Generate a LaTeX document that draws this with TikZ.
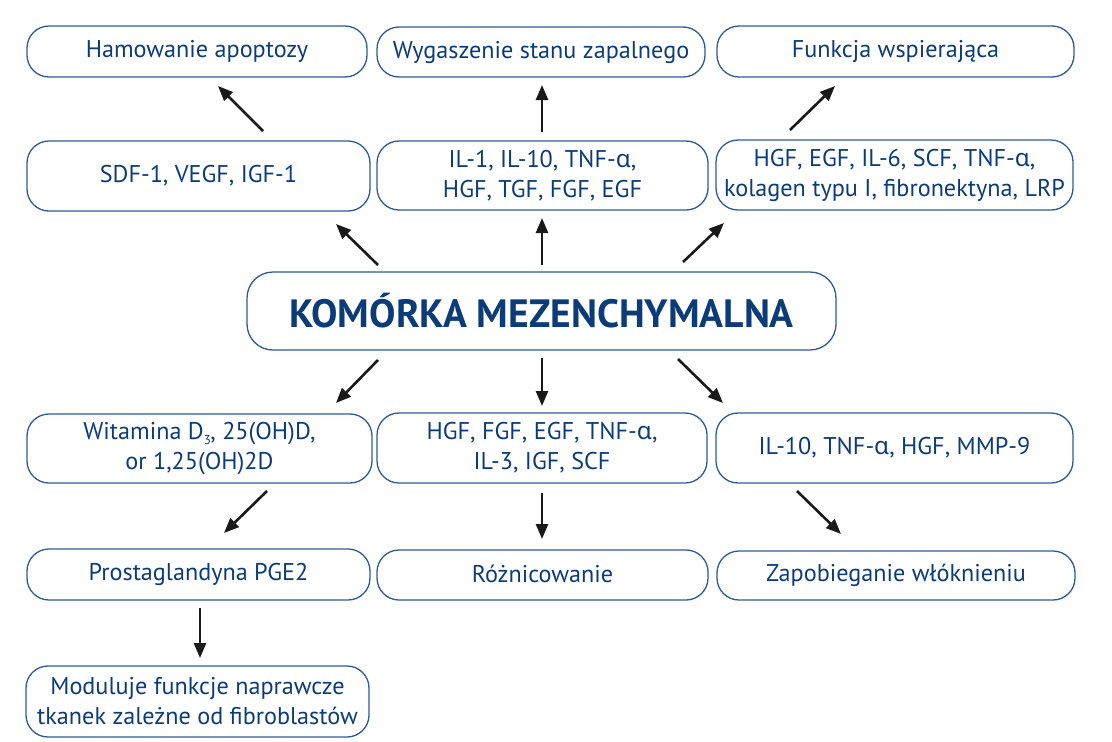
\documentclass[tikz,border=0pt]{standalone}
\usepackage{fontspec}
\setmainfont{PT Sans}
\newfontfamily\grk{Noto Sans}
\usetikzlibrary{arrows.meta}
\definecolor{boxline}{RGB}{45,90,152}
\definecolor{boxtext}{RGB}{12,60,120}
\newcommand{\alf}{{\grk α}}
\begin{document}
\begin{tikzpicture}[x=1pt,y=-1pt,
  box/.style={draw=boxline, line width=1.3pt, rounded corners=22pt, inner sep=0pt,
    align=center, text=boxtext, font=\fontsize{24.2}{30}\selectfont},
  titlebox/.style={box, rounded corners=26pt, font=\fontsize{39.5}{44}\selectfont\bfseries},
  arr/.style={line width=2.6pt, -{Triangle[length=15pt,width=12pt]}, black!90}]
\useasboundingbox (0,0) rectangle (1112,742);

% top row: effects
\node[box, minimum width=340, minimum height=51] (hamow) at (197,51.5) {Hamowanie apoptozy};
\node[box, minimum width=328, minimum height=50] (wyg) at (541,52) {Wygaszenie stanu zapalnego};
\node[box, minimum width=357, minimum height=51] (funk) at (895.5,51.5) {Funkcja wspierająca};

% second row: secreted factors
\node[box, minimum width=343, minimum height=70] (sdf) at (198.5,176) {SDF-1, VEGF, IGF-1};
\node[box, minimum width=331, minimum height=69] (ilj) at (542.5,175.5) {IL-1, IL-10, TNF-\alf,\\HGF, TGF, FGF, EGF};
\node[box, minimum width=357, minimum height=70] (hgfa) at (894.5,175) {HGF, EGF, IL-6, SCF, TNF-\alf,\\kolagen typu I, fibronektyna, LRP};

% central cell
\node[titlebox, minimum width=589, minimum height=78] (msc) at (541.5,311) {KOMÓRKA MEZENCHYMALNA};

% fourth row: secreted factors
\node[box, minimum width=345, minimum height=69] (wit) at (199.5,448.5)
  {Witamina D\raisebox{-0.45ex}{\fontsize{13}{13}\selectfont 3}\kern-0.5pt, 25(OH)D,\\or 1,25(OH)2D};
\node[box, minimum width=330, minimum height=70] (hgfb) at (542,448) {HGF, FGF, EGF, TNF-\alf,\\IL-3, IGF, SCF};
\node[box, minimum width=357, minimum height=70] (ilk) at (894.5,448) {IL-10, TNF-\alf, HGF, MMP-9};

% fifth row: effects
\node[box, minimum width=343, minimum height=51] (prost) at (198.5,574.5) {Prostaglandyna PGE2};
\node[box, minimum width=331, minimum height=50] (rozn) at (542.5,575) {\raisebox{2pt}{Różnicowanie}};
\node[box, minimum width=358, minimum height=49] (zapob) at (896,575.5) {Zapobieganie włóknieniu};

% last row
\node[box, minimum width=343, minimum height=71] (modul) at (197.5,701.5) {Moduluje funkcje naprawcze\\tkanek zależne od fibroblastów};

% arrow end points in the gaps between the boxes
\coordinate (s1) at (263,131); \coordinate (e1) at (218,86);
\coordinate (s2) at (542,132); \coordinate (e2) at (542,85);
\coordinate (s3) at (790,130); \coordinate (e3) at (835,86);
\coordinate (s4) at (378,265); \coordinate (e4) at (336,224);
\coordinate (s5) at (542,265); \coordinate (e5) at (542,218);
\coordinate (s6) at (683,262); \coordinate (e6) at (724,223);
\coordinate (s7) at (378,360); \coordinate (e7) at (336,403);
\coordinate (s8) at (542,358); \coordinate (e8) at (542,406);
\coordinate (s9) at (678,359); \coordinate (e9) at (723,403);
\coordinate (s10) at (267,491); \coordinate (e10) at (224,533);
\coordinate (s11) at (542,493); \coordinate (e11) at (542,539);
\coordinate (s12) at (797,491); \coordinate (e12) at (841,534);
\coordinate (s13) at (200,608); \coordinate (e13) at (200,658);

\foreach \i in {1,...,13} \draw[arr] (s\i) -- (e\i);
\end{tikzpicture}
\end{document}
